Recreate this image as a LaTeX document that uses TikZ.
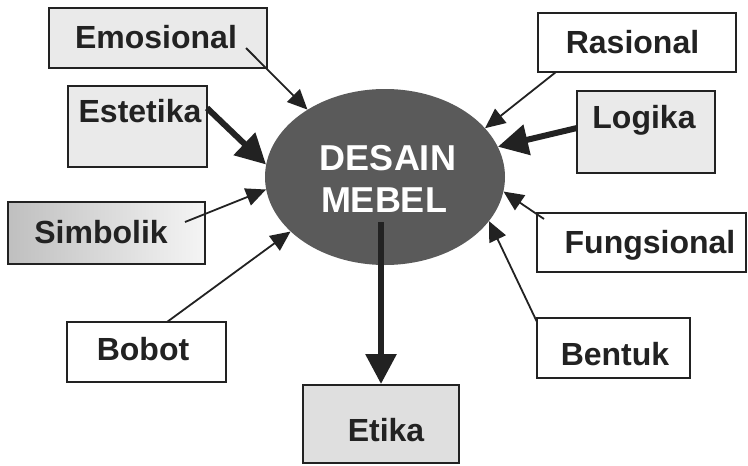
\documentclass[tikz,border=0pt]{standalone}
\usepackage{fontspec}
\setmainfont{Liberation Sans}
\usetikzlibrary{arrows.meta,shapes.geometric}
\definecolor{ink}{HTML}{222222}
\definecolor{boxgray}{HTML}{EAEAEA}
\definecolor{ellgray}{HTML}{5A5A5A}
\tikzset{
  box/.style={draw=ink, line width=2pt, inner sep=0pt, fill=white},
  lbl/.style={anchor=base, text=ink, font=\fontsize{32}{36}\selectfont\bfseries, inner sep=0pt},
  thin/.style={draw=ink, line width=1.8pt, -{Triangle[length=20pt,width=18pt]}},
  thick/.style={draw=ink, line width=6pt, -{Triangle[length=30pt,width=30pt]}},
}
\begin{document}
\begin{tikzpicture}[x=1pt,y=-1pt]
\useasboundingbox[fill=white] (0,0) rectangle (748,466);

% central ellipse
\node[ellipse, fill=ellgray, minimum width=240pt, minimum height=176pt, inner sep=0pt] (desain) at (385,177) {};
\node[anchor=base, text=white, font=\fontsize{36}{40}\selectfont\bfseries, inner sep=0pt] (t1) at (388,170) {DESAIN};
\node[anchor=base, text=white, font=\fontsize{36}{40}\selectfont\bfseries, inner sep=0pt] (t2) at (384,212) {MEBEL};

% boxes
\node[box, fill=boxgray, minimum width=218pt, minimum height=60pt] (emo) at (158,37.5) {};
\node[lbl] (emoT) at (156,48) {Emosional};
\node[box, fill=boxgray, minimum width=139pt, minimum height=81pt] (est) at (137.5,126.5) {};
\node[lbl] (estT) at (140,122) {Estetika};
\node[box, left color=gray!50, right color=gray!8, minimum width=197pt, minimum height=62pt] (sim) at (106.5,233) {};
\node[lbl] (simT) at (101,243) {Simbolik};
\node[box, minimum width=159pt, minimum height=60pt] (bob) at (146.5,352) {};
\node[lbl] (bobT) at (143,360) {Bobot};
\node[box, fill=boxgray!90!gray, minimum width=156pt, minimum height=78pt] (eti) at (381,424) {};
\node[lbl] (etiT) at (386,441) {Etika};
\node[box, minimum width=198pt, minimum height=59pt] (ras) at (636.5,42.5) {};
\node[lbl] (rasT) at (632.5,53) {Rasional};
\node[box, fill=boxgray, minimum width=138pt, minimum height=82pt] (log) at (646,132) {};
\node[lbl] (logT) at (644,128) {Logika};
\node[box, minimum width=209pt, minimum height=59pt] (fun) at (641.5,242.5) {};
\node[lbl] (funT) at (650,253) {Fungsional};
\node[box, minimum width=153pt, minimum height=60pt] (ben) at (613.5,348) {};
\node[lbl] (benT) at (615,365) {Bentuk};

% connector start points
\coordinate (emoS) at (246,48);
\coordinate (estS) at (207,108);
\coordinate (simS) at (185,222);
\coordinate (bobS) at (167,322);
\coordinate (rasS) at (556,72);
\coordinate (logS) at (577,128);
\coordinate (funS) at (544,219);
\coordinate (benS) at (537,322);
\coordinate (etiS) at (381,222);

% connectors
\draw[thin] (emoS) -- (desain.139);
\draw[thick] (estS) -- (desain.174);
\draw[thin] (simS) -- (desain.186);
\draw[thin] (bobS) -- (desain.210);
\draw[thin] (rasS) -- (desain.26);
\draw[thick] (logS) -- (desain.15);
\draw[thin] (funS) -- (desain.353.5);
\draw[thin] (benS) -- (desain.337.5);
\draw[thick] (etiS) -- (eti.north -| etiS);
\end{tikzpicture}
\end{document}
